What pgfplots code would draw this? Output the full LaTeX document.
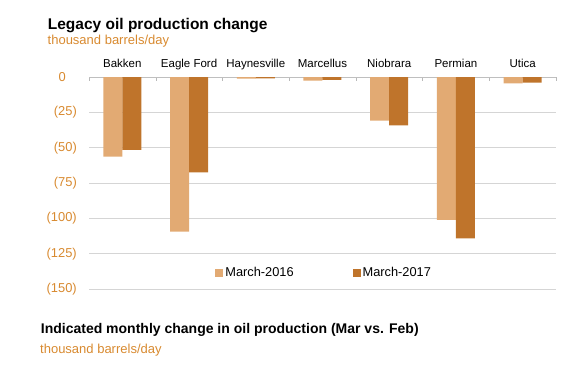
\documentclass[border=0pt]{standalone}
\usepackage{pgfplots}
\pgfplotsset{compat=1.18}
\usepackage{fontspec}
\setmainfont{Liberation Sans}
\definecolor{lightbar}{HTML}{E2AA73}
\definecolor{darkbar}{HTML}{BF742B}
\definecolor{orangetxt}{HTML}{D88A30}
\begin{document}
\begin{tikzpicture}
\useasboundingbox (0pt,0pt) rectangle (581pt,365pt);
\node[anchor=base west,inner sep=0pt] at (47.7pt,335pt) {\fontsize{15.5}{18}\selectfont\bfseries Legacy oil production change};
\node[anchor=base west,inner sep=0pt,text=orangetxt] at (47.5pt,320pt) {\fontsize{13}{15}\selectfont thousand barrels/day};
\node[anchor=base west,inner sep=0pt] at (40.7pt,32pt) {\fontsize{14}{17}\selectfont\bfseries Indicated monthly change in oil production (Mar vs. Feb)};
\node[anchor=base west,inner sep=0pt,text=orangetxt] at (40pt,12pt) {\fontsize{13}{15}\selectfont thousand barrels/day};
\begin{axis}[
  at={(89pt,288pt)}, anchor=north west,
  scale only axis, width=467pt, height=212pt,
  ybar=0pt, bar width=19pt,
  xmin=-0.5, xmax=6.5, ymin=-150, ymax=0,
  axis line style={draw=none},
  xtick={0,1,2,3,4,5,6},
  xticklabels={Bakken,Eagle Ford,Haynesville,Marcellus,Niobrara,Permian,Utica},
  xticklabel pos=upper, xtick pos=top,
  minor xtick={-0.5,0.5,1.5,2.5,3.5,4.5,5.5,6.5},
  major tick length=0pt, minor tick length=4pt, tick align=inside,
  minor tick style={gray!55},
  xticklabel style={anchor=base, inner sep=0pt, yshift=10pt, font=\fontsize{11.5}{13}\selectfont},
  ytick={-150,-125,-100,-75,-50,-25},
  yticklabels={(150),(125),(100),(75),(50),(25)},
  extra y ticks={0}, extra y tick labels={0},
  extra y tick style={major grid style={gray!50, line width=0.8pt}, yticklabel style={xshift=-11pt}},
  ytick pos=left,
  yticklabel style={anchor=east, inner sep=0pt, xshift=-12pt, text=orangetxt, font=\fontsize{12.9}{15}\selectfont},
  ymajorgrids, major grid style={gray!33, line width=0.8pt},
  legend columns=2,
  legend style={at={(0.5036,0.077)}, anchor=center, draw=none, fill=none,
    font=\fontsize{12.8}{15}\selectfont, inner sep=0pt,
    cells={anchor=west},
    /tikz/every even column/.append style={column sep=57pt}},
  legend image code/.code={\fill[#1] (0pt,-4pt) rectangle (8pt,4pt);},
]
\addplot[fill=lightbar, draw=none] coordinates {(0,-56.4) (1,-109.4) (2,-1.2) (3,-2.6) (4,-30.9) (5,-101.1) (6,-4.5)};
\addplot[fill=darkbar, draw=none] coordinates {(0,-51.6) (1,-67.4) (2,-1.0) (3,-2.0) (4,-34.2) (5,-114.1) (6,-4.0)};
\legend{March-2016,March-2017}
\end{axis}
\end{tikzpicture}
\end{document}
